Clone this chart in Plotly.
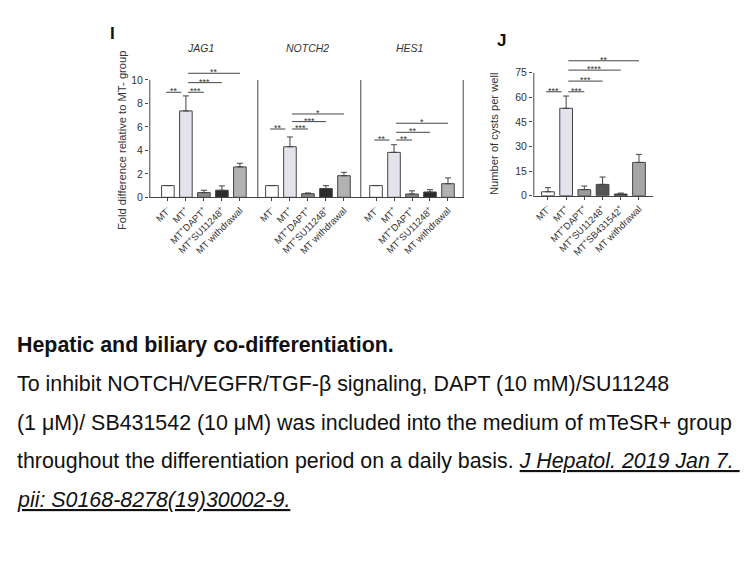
import plotly.graph_objects as go

PAGE_W, PAGE_H = 756, 567
OFF = 8  # default body margin of the html page
W, H = PAGE_W - 2 * OFF, PAGE_H - 2 * OFF

# ---------------- data ----------------
labels_I = ["MT<sup>-</sup>", "MT<sup>+</sup>", "MT<sup>+</sup>DAPT<sup>+</sup>",
            "MT<sup>+</sup>SU11248<sup>+</sup>", "MT withdrawal"]
genes = ["JAG1", "NOTCH2", "HES1"]
jag1_mean = [1.0, 7.36, 0.40, 0.60, 2.59]
jag1_sem = [0.0, 1.28, 0.20, 0.37, 0.31]
notch2_mean = [1.0, 4.31, 0.31, 0.74, 1.84]
notch2_sem = [0.0, 0.83, 0.06, 0.25, 0.29]
hes1_mean = [1.0, 3.83, 0.28, 0.45, 1.16]
hes1_sem = [0.0, 0.65, 0.27, 0.20, 0.49]
# significance brackets: (from index, to index, height, label)
jag1_sig = [(0, 1, 8.95, "**"), (1, 2, 8.95, "***"), (1, 3, 9.77, "***"), (1, 4, 10.57, "**")]
notch2_sig = [(0, 1, 5.82, "**"), (1, 2, 5.82, "***"), (1, 3, 6.45, "***"), (1, 4, 7.1, "*")]
hes1_sig = [(0, 1, 4.88, "**"), (1, 2, 4.88, "**"), (1, 3, 5.54, "**"), (1, 4, 6.31, "*")]
yticks_I = [0, 2, 4, 6, 8, 10]

labels_J = ["MT<sup>-</sup>", "MT<sup>+</sup>", "MT<sup>+</sup>DAPT<sup>+</sup>",
            "MT<sup>+</sup>SU11248<sup>+</sup>", "MT<sup>+</sup>SB431542<sup>+</sup>", "MT withdrawal"]
cysts_mean = [2.4, 53.3, 3.7, 6.9, 1.0, 20.3]
cysts_sem = [2.5, 7.5, 2.2, 4.5, 0.6, 4.9]
cysts_sig = [(0, 1, 63.4, "***"), (1, 2, 63.4, "***"), (1, 3, 69.9, "***"),
             (1, 4, 76.6, "****"), (1, 5, 82.3, "**")]
yticks_J = [0, 15, 30, 45, 60, 75]

caption_lines = [
    "<b>Hepatic and biliary co-differentiation.</b>",
    "To inhibit NOTCH/VEGFR/TGF-β signaling, DAPT (10 mM)/SU11248",
    "(1 μM)/ SB431542 (10 μM) was included into the medium of mTeSR+ group",
    "throughout the differentiation period on a daily basis. <i><u>J Hepatol. 2019 Jan 7.&nbsp;</u></i>",
    "<i><u>pii: S0168-8278(19)30002-9.</u></i>",
]

# ---------------- styles ----------------
colors_I = ["#ffffff", "#e3e3eb", "#8a8a8a", "#2b2b2b", "#b2b2b2"]
colors_J = ["#ffffff", "#e3e3eb", "#9a9a9a", "#555555", "#222222", "#a6a6a6"]
FONT = "Liberation Sans, Arial, sans-serif"
TXT = "#333333"
EDGE = "#444444"


def fx(p):
    return (p - OFF) / W


def fy(p):
    return 1 - (p - OFF) / H


fig = go.Figure()
layout = dict(
    width=W, height=H, margin=dict(l=0, r=0, t=0, b=0, autoexpand=False),
    paper_bgcolor="white", plot_bgcolor="rgba(0,0,0,0)", showlegend=False,
    font=dict(family=FONT, color=TXT),
)
shapes, annotations = [], []

I_dom = [(149, 257), (257, 360), (360, 464)]
I_rng = [(-1.05, 4.95), (-0.83, 4.89), (-0.89, 4.89)]
I_ydom = (197.3, 64.7)
I_yr = (0, 11.3)
means = [jag1_mean, notch2_mean, hes1_mean]
sems = [jag1_sem, notch2_sem, hes1_sem]
sigs = [jag1_sig, notch2_sig, hes1_sig]

J_dom = (533, 653)
J_rng = (-0.82, 5.77)
J_ydom = (195.7, 54.7)
J_yr = (0, 86)


def add_axis(k, xdom, xr, ydom, yr, cats, ticks, first):
    sx = "" if k == 1 else str(k)
    layout["xaxis" + sx] = dict(
        domain=[fx(xdom[0]), fx(xdom[1])], range=list(xr), type="category",
        categoryorder="array", categoryarray=cats,
        showline=True, linecolor=EDGE, linewidth=1, ticks="outside", ticklen=3,
        tickcolor=EDGE, tickangle=-45, tickfont=dict(size=9.5, color=TXT, family=FONT),
        showgrid=False, zeroline=False, anchor="y" + sx, automargin=False, fixedrange=True,
    )
    layout["yaxis" + sx] = dict(
        domain=[fy(ydom[0]), fy(ydom[1])], range=list(yr), showline=False,
        showgrid=False, zeroline=False, anchor="x" + sx, automargin=False,
        tickvals=ticks if first else [], ticks="outside" if first else "",
        ticklen=3, tickcolor=EDGE, showticklabels=first,
        tickfont=dict(size=10.5, color=TXT, family=FONT), fixedrange=True,
    )


def add_bars(k, cats, vals, errs, cols):
    sx = "" if k == 1 else str(k)
    fig.add_trace(go.Bar(
        x=cats, y=vals, xaxis="x" + sx, yaxis="y" + sx, width=0.7,
        marker=dict(color=cols, line=dict(color=EDGE, width=1)),
        error_y=dict(type="data", array=errs, arrayminus=[0] * len(errs), symmetric=False,
                     color=EDGE, thickness=1, width=3),
    ))


def add_sig(k, sig):
    sx = "" if k == 1 else str(k)
    for i, j, h, lab in sig:
        if j == 1:
            x0, x1 = i - 0.1, j - 0.25
        else:
            x0, x1 = i + 0.12, j
        shapes.append(dict(type="line", xref="x" + sx, yref="y" + sx, x0=x0, x1=x1,
                           y0=h, y1=h, line=dict(color=EDGE, width=1)))
        annotations.append(dict(xref="x" + sx, yref="y" + sx, x=(x0 + x1) / 2, y=h,
                                xanchor="center", yanchor="middle",
                                text=lab, showarrow=False, yshift=1,
                                font=dict(size=9, color=TXT, family=FONT)))


def vline(k, x, top):
    sx = "" if k == 1 else str(k)
    shapes.append(dict(type="line", xref="x" + sx, yref="y" + sx, x0=x, x1=x,
                       y0=0, y1=top, line=dict(color=EDGE, width=1)))


def label(px, py, text, size, color=TXT, angle=0):
    annotations.append(dict(xref="paper", yref="paper", x=fx(px), y=fy(py),
                            xanchor="center", yanchor="middle", textangle=angle,
                            text=text, showarrow=False,
                            font=dict(size=size, color=color, family=FONT)))


for n in range(3):
    k = n + 1
    add_axis(k, I_dom[n], I_rng[n], I_ydom, I_yr, labels_I, yticks_I, n == 0)
    add_bars(k, labels_I, means[n], sems[n], colors_I)
    add_sig(k, sigs[n])
    vline(k, I_rng[n][0] + 0.045, yticks_I[-1])
vline(3, I_rng[2][1] - 0.045, yticks_I[-1])
label(200, 48, "<i>" + genes[0] + "</i>", 10.5)
label(307, 48, "<i>" + genes[1] + "</i>", 10.5)
label(409, 48, "<i>" + genes[2] + "</i>", 10.5)

add_axis(4, J_dom, J_rng, J_ydom, J_yr, labels_J, yticks_J, True)
add_bars(4, labels_J, cysts_mean, cysts_sem, colors_J)
add_sig(4, cysts_sig)
vline(4, J_rng[0] + 0.045, yticks_J[-1])

label(122, 140, "Fold difference relative to MT- group", 11.2, angle=-90)
label(494, 134, "Number of cysts per well", 11.2, angle=-90)
label(112, 33, "<b>I</b>", 17, color="#111111")
label(501, 41, "<b>J</b>", 17, color="#111111")

cap_y = [345, 384, 423, 461, 500]
for txt, yy in zip(caption_lines, cap_y):
    annotations.append(dict(xref="paper", yref="paper", x=fx(15), y=fy(yy),
                            xanchor="left", yanchor="middle", text=txt, showarrow=False,
                            font=dict(size=21.4, color="#111111", family=FONT)))

layout["shapes"] = shapes
layout["annotations"] = annotations
fig.update_layout(**layout)
fig.write_html("out.html")
